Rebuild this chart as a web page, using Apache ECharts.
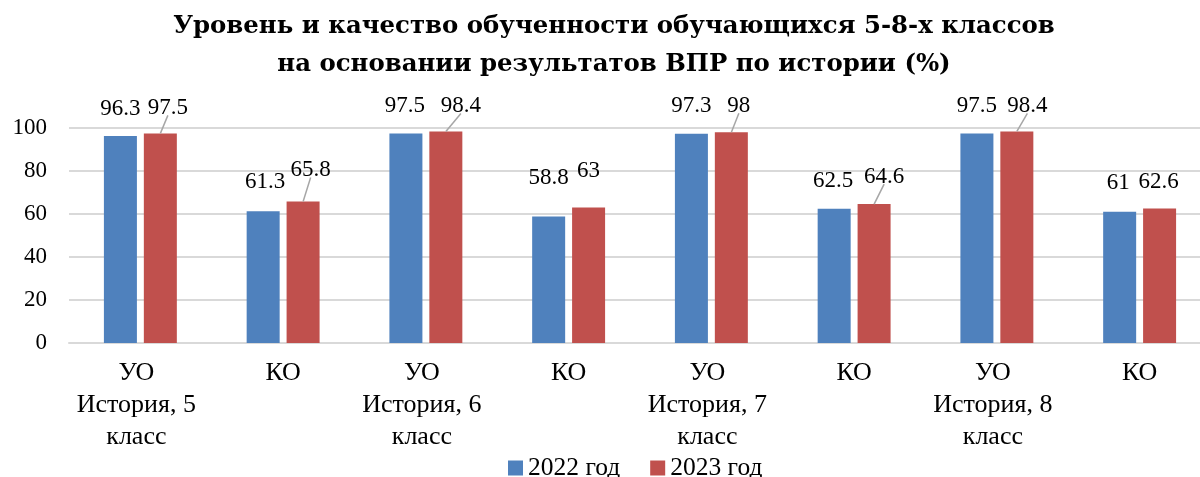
<!DOCTYPE html>
<html><head><meta charset="utf-8">
<script src="https://cdn.jsdelivr.net/npm/echarts@6/dist/echarts.min.js"></script>
<style>html,body{margin:0;padding:0;background:#fff}#c{width:1200px;height:477px}</style>
</head><body><div id="c"></div>
<script>
// ---- data ----
const categories = ['УО\nИстория, 5\nкласс','КО','УО\nИстория, 6\nкласс','КО','УО\nИстория, 7\nкласс','КО','УО\nИстория, 8\nкласс','КО'];
const values2022 = [96.3, 61.3, 97.5, 58.8, 97.3, 62.5, 97.5, 61];
const values2023 = [97.5, 65.8, 98.4, 63, 98, 64.6, 98.4, 62.6];
const yTicks = [0, 20, 40, 60, 80, 100];
const seriesNames = ['2022 год', '2023 год'];

// ---- label placement (styling: manual nudges as in the original) ----
const labelDist2022 = [16, 18, 16, 27, 16, 16, 16, 17];
const labelDx2022 = [0, 2, -1, 0, 0, -1, 0, -1.5];
const labelDist2023 = [14, 20, 14, 25, 15, 16, 14, 15];
const labelDx2023 = [7.5, 7.5, 15, 0, 7.5, 10, 10.5, -1];
const leader2023 = [true, true, true, false, true, true, true, false];

const FONT = '"Liberation Serif", "DejaVu Serif", serif';
const TFONT = '"DejaVu Serif", serif';
const BAR_HALF_STEP = 20; // distance from category centre to each bar centre

const labelBase = {show: true, position: 'top', fontFamily: FONT, fontSize: 23, color: '#000'};
const data2022 = values2022.map((v, i) => ({value: v, label: Object.assign({}, labelBase, {distance: labelDist2022[i], offset: [labelDx2022[i], 0]})}));
const data2023 = values2023.map((v, i) => ({value: v, label: Object.assign({}, labelBase, {distance: labelDist2023[i], offset: [labelDx2023[i], 0]})}));

const chart = echarts.init(document.getElementById('c'));
chart.setOption({
  animation: false,
  textStyle: {fontFamily: FONT},
  title: {
    text: 'Уровень и качество обученности обучающихся 5-8-х классов\nна основании результатов ВПР по истории (%)',
    left: 609, textAlign: 'center', top: 3,
    textStyle: {fontFamily: TFONT, fontWeight: 'bold', fontSize: 24.4, lineHeight: 38, color: '#000'}
  },
  legend: {
    top: 450, left: 503, itemWidth: 15, itemHeight: 15, itemGap: 30,
    icon: 'rect',
    textStyle: {fontFamily: FONT, fontSize: 25.5, color: '#000'},
    data: seriesNames
  },
  grid: {left: 69, width: 1142, top: 128, height: 215, containLabel: false, outerBoundsMode: 'none'},
  xAxis: {
    type: 'category', data: categories,
    axisLine: {lineStyle: {color: '#d9d9d9', width: 2}},
    axisTick: {show: false},
    axisLabel: {fontFamily: FONT, fontSize: 26, color: '#000', lineHeight: 32, margin: 14, interval: 0,
      formatter: v => v.indexOf('\n') >= 0 ? v.split('\n').map(s => '{u|' + s + '}').join('\n') : v,
      rich: {u: {fontFamily: FONT, fontSize: 26, color: '#000', lineHeight: 32, padding: [0, 8, 0, 0]}}
    }
  },
  yAxis: {
    type: 'value', min: 0, max: 100, interval: 20,
    axisLine: {show: false}, axisTick: {show: false},
    splitLine: {lineStyle: {color: '#d9d9d9', width: 2}},
    axisLabel: {fontFamily: FONT, fontSize: 23, color: '#000', margin: 22,
      formatter: v => yTicks.includes(v) ? String(v) : ''}
  },
  series: [
    {
      name: seriesNames[0], type: 'bar', data: data2022, barWidth: 33, barGap: '21%',
      itemStyle: {color: '#4F81BD'}
    },
    {
      name: seriesNames[1], type: 'bar', data: data2023, barWidth: 33,
      itemStyle: {color: '#C0504D'}
    },
    {
      name: 'leader', type: 'custom', data: values2023.map((v, i) => [i, v]),
      silent: true, legendHoverLink: false, z: 5,
      renderItem: function (params, api) {
        const i = api.value(0);
        if (!leader2023[i]) return null;
        const p = api.coord([i, api.value(1)]);
        const x0 = p[0] + BAR_HALF_STEP;
        const gap = labelDist2023[i] + 4;
        return {
          type: 'line',
          shape: {x1: x0, y1: p[1], x2: x0 + labelDx2023[i], y2: p[1] - gap},
          style: {stroke: '#a6a6a6', lineWidth: 1.5}
        };
      }
    }
  ]
});
</script></body></html>
